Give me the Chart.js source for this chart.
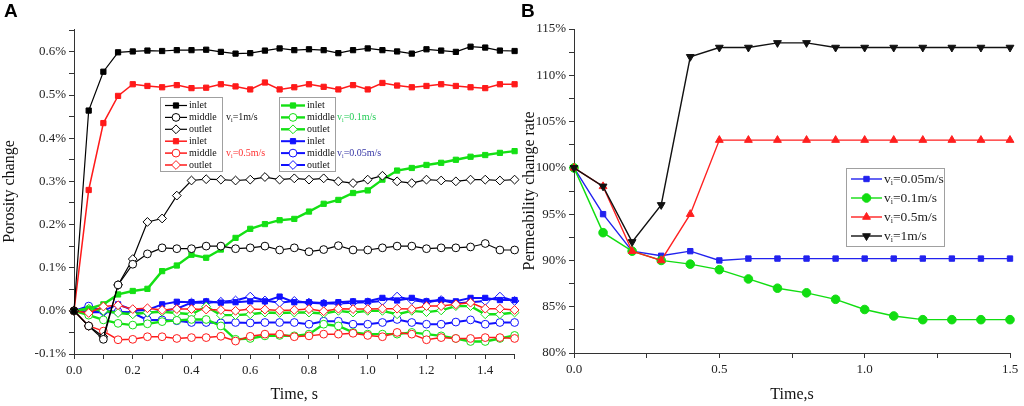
<!DOCTYPE html>
<html>
<head>
<meta charset="utf-8">
<script src="https://cdn.jsdelivr.net/npm/chart.js@4.4.1/dist/chart.umd.min.js"></script>
<style>
  html, body { margin: 0; padding: 0; background: #fff; }
  #wrap { position: relative; width: 1024px; height: 406px; overflow: hidden; }
  .panel { position: absolute; top: 0; height: 406px; }
  #boxA { left: 0; width: 520px; }
  #boxB { left: 520px; width: 504px; }
  .tag { position: absolute; top: 1px; font: bold 19px "Liberation Sans", Arial, sans-serif; line-height: 19px; }
</style>
</head>
<body>
<div id="wrap">
  <div class="panel" id="boxA"><canvas id="porosity" width="520" height="406"></canvas></div>
  <div class="panel" id="boxB"><canvas id="permeability" width="504" height="406"></canvas></div>
  <div class="tag" style="left:4px">A</div>
  <div class="tag" style="left:521px">B</div>
</div>
<script>
// ---- panel A: porosity change (%) ----
const times = [0, 0.05, 0.1, 0.15, 0.2, 0.25, 0.3, 0.35, 0.4, 0.45, 0.5, 0.55, 0.6, 0.65, 0.7, 0.75,
  0.8, 0.85, 0.9, 0.95, 1.0, 1.05, 1.1, 1.15, 1.2, 1.25, 1.3, 1.35, 1.4, 1.45, 1.5];

const blackInlet = [0, 0.464, 0.554, 0.599, 0.601, 0.603, 0.602, 0.604, 0.604, 0.605, 0.600, 0.596, 0.597, 0.603, 0.608, 0.604,
  0.606, 0.604, 0.597, 0.604, 0.608, 0.604, 0.601, 0.596, 0.606, 0.603, 0.600, 0.612, 0.610, 0.603, 0.602];
const blackMiddle = [0, -0.035, -0.066, 0.06, 0.108, 0.132, 0.146, 0.144, 0.144, 0.150, 0.150, 0.144, 0.146, 0.150, 0.141, 0.146,
  0.137, 0.142, 0.151, 0.141, 0.141, 0.146, 0.150, 0.150, 0.144, 0.146, 0.146, 0.148, 0.156, 0.141, 0.141];
const blackOutlet = [0, -0.035, -0.06, 0.06, 0.12, 0.206, 0.214, 0.267, 0.302, 0.305, 0.304, 0.302, 0.304, 0.310, 0.304, 0.307,
  0.304, 0.307, 0.300, 0.296, 0.304, 0.313, 0.300, 0.296, 0.304, 0.302, 0.300, 0.304, 0.304, 0.302, 0.304];
const redInlet = [0, 0.28, 0.435, 0.498, 0.525, 0.521, 0.518, 0.523, 0.516, 0.517, 0.525, 0.520, 0.513, 0.529, 0.513, 0.518,
  0.525, 0.519, 0.513, 0.523, 0.513, 0.528, 0.522, 0.518, 0.521, 0.525, 0.521, 0.518, 0.516, 0.525, 0.525];
const redMiddle = [0, -0.035, -0.047, -0.067, -0.066, -0.060, -0.060, -0.064, -0.062, -0.062, -0.059, -0.070, -0.059, -0.054, -0.054, -0.060,
  -0.058, -0.054, -0.054, -0.052, -0.057, -0.060, -0.050, -0.054, -0.067, -0.062, -0.064, -0.064, -0.062, -0.062, -0.064];
const redOutlet = [0, -0.005, 0.010, 0.013, 0.004, 0.006, 0.002, 0.004, 0.004, 0.003, 0.002, 0.000, 0.004, 0.003, 0.001, 0.002,
  0.004, -0.001, 0.005, 0.004, 0.004, 0.005, 0.005, 0.004, 0.011, 0.011, 0.015, 0.019, 0.005, 0.005, 0.002];
const greenInlet = [0, 0.005, 0.015, 0.038, 0.046, 0.051, 0.092, 0.105, 0.130, 0.123, 0.142, 0.169, 0.190, 0.201, 0.210, 0.213,
  0.230, 0.248, 0.257, 0.273, 0.279, 0.304, 0.325, 0.331, 0.338, 0.343, 0.350, 0.357, 0.361, 0.366, 0.370];
const greenMiddle = [0, -0.010, -0.021, -0.029, -0.033, -0.030, -0.025, -0.022, -0.020, -0.020, -0.035, -0.066, -0.064, -0.058, -0.057, -0.058,
  -0.054, -0.031, -0.035, -0.050, -0.054, -0.054, -0.054, -0.050, -0.054, -0.058, -0.064, -0.071, -0.071, -0.064, -0.057];
const greenOutlet = [0, 0.005, 0.000, -0.005, -0.008, -0.004, -0.002, -0.005, -0.008, 0.010, -0.010, -0.010, -0.008, -0.004, -0.005, -0.004,
  -0.004, -0.006, 0.000, -0.004, 0.000, 0.000, -0.008, 0.000, -0.003, 0.001, 0.011, 0.011, -0.008, -0.008, -0.004];
const blueInlet = [0, -0.002, 0.000, 0.015, 0.002, 0.002, 0.015, 0.021, 0.020, 0.022, 0.019, 0.020, 0.022, 0.022, 0.033, 0.020,
  0.020, 0.018, 0.020, 0.022, 0.022, 0.030, 0.024, 0.030, 0.022, 0.025, 0.022, 0.030, 0.030, 0.025, 0.025];
const blueMiddle = [0, 0.011, 0.000, -0.002, -0.005, -0.021, -0.021, -0.023, -0.027, -0.027, -0.028, -0.027, -0.028, -0.027, -0.027, -0.027,
  -0.031, -0.024, -0.024, -0.031, -0.031, -0.027, -0.020, -0.027, -0.031, -0.031, -0.026, -0.021, -0.031, -0.027, -0.027];
const blueOutlet = [0, -0.003, -0.003, -0.003, -0.003, -0.005, 0.000, 0.005, 0.019, 0.019, 0.021, 0.024, 0.033, 0.024, 0.019, 0.023,
  0.019, 0.017, 0.017, 0.019, 0.020, 0.023, 0.033, 0.025, 0.020, 0.025, 0.017, 0.020, 0.023, 0.033, 0.023];

const positions = ['inlet', 'middle', 'outlet'];

// ---- panel B: permeability change rate (%) ----
const permTimes = [0, 0.1, 0.2, 0.3, 0.4, 0.5, 0.6, 0.7, 0.8, 0.9, 1.0, 1.1, 1.2, 1.3, 1.4, 1.5];
const perm005 = [100, 95, 91, 90.5, 91, 90, 90.2, 90.2, 90.2, 90.2, 90.2, 90.2, 90.2, 90.2, 90.2, 90.2];
const perm01 = [100, 93, 91, 90, 89.6, 89, 88, 87, 86.5, 85.8, 84.7, 84, 83.6, 83.6, 83.6, 83.6];
const perm05 = [100, 98, 91, 90, 95, 103, 103, 103, 103, 103, 103, 103, 103, 103, 103, 103];
const perm1 = [100, 98, 92, 96, 112, 113, 113, 113.5, 113.5, 113, 113, 113, 113, 113, 113, 113];

const SERIF = '"Liberation Serif", "Times New Roman", serif';

function isStep(v, step) {
  const k = v / step;
  return Math.abs(k - Math.round(k)) < 1e-6;
}

function pts(xs, ys) {
  return xs.map((x, i) => ({ x: x, y: ys[i] }));
}

function drawRich(ctx, parts, x, y, size, color) {
  ctx.fillStyle = color;
  ctx.textBaseline = 'middle';
  ctx.textAlign = 'left';
  parts.forEach(p => {
    if (typeof p === 'string') {
      ctx.font = size + 'px ' + SERIF;
      ctx.fillText(p, x, y);
      x += ctx.measureText(p).width;
    } else {
      const s = Math.round(size * 0.6);
      ctx.font = s + 'px ' + SERIF;
      ctx.fillText(p.sub, x, y + size * 0.3);
      x += ctx.measureText(p.sub).width;
    }
  });
}

// legend drawn inside the plot, using each dataset's own style
const boxLegend = {
  id: 'boxLegend',
  afterDatasetsDraw(chart, args, opts) {
    const ctx = chart.ctx;
    ctx.save();
    ctx.strokeStyle = '#a0a0a0';
    ctx.lineWidth = 1;
    opts.boxes.forEach(b => ctx.strokeRect(b[0] + 0.5, b[1] + 0.5, b[2], b[3]));
    opts.rows.forEach(r => {
      const ds = chart.data.datasets[r.index];
      ctx.strokeStyle = ds.borderColor;
      ctx.lineWidth = ds.borderWidth;
      ctx.beginPath();
      ctx.moveTo(r.x, r.y);
      ctx.lineTo(r.x + r.len, r.y);
      ctx.stroke();
      ctx.fillStyle = ds.pointBackgroundColor;
      ctx.strokeStyle = ds.pointBorderColor;
      ctx.lineWidth = ds.pointBorderWidth;
      Chart.helpers.drawPoint(ctx, {
        pointStyle: ds.pointStyle,
        radius: ds.pointRadius,
        rotation: ds.pointRotation || 0,
        borderWidth: ds.pointBorderWidth
      }, r.x + r.len / 2, r.y);
      drawRich(ctx, r.text, r.x + r.len + 2, r.y, opts.size, opts.textColor);
    });
    (opts.notes || []).forEach(n => drawRich(ctx, n.parts, n.x, n.y, opts.size, n.color));
    ctx.restore();
  }
};

function axis(extra) {
  return Object.assign({
    type: 'linear',
    border: { display: true, color: '#333', width: 1 },
    grid: { drawOnChartArea: false, drawTicks: true, tickLength: 5, color: '#333' },
  }, extra);
}

// ---- chart A ----
const groups = [
  { color: '#000000', lw: 1.2, series: [blackInlet, blackMiddle, blackOutlet] },
  { color: '#ff1a1a', lw: 1.5, series: [redInlet, redMiddle, redOutlet] },
  { color: '#14e014', lw: 2.4, series: [greenInlet, greenMiddle, greenOutlet] },
  { color: '#1010ff', lw: 2.0, series: [blueInlet, blueMiddle, blueOutlet] }
];
const styleA = [
  { pointStyle: 'rect', radius: 3.7, fill: null },
  { pointStyle: 'circle', radius: 3.9, fill: '#ffffff' },
  { pointStyle: 'rectRot', radius: 4.4, fill: '#ffffff' }
];

const datasetsA = [];
groups.forEach(g => {
  g.series.forEach((s, k) => {
    datasetsA.push({
      label: positions[k],
      data: pts(times, s),
      borderColor: g.color,
      borderWidth: g.lw,
      pointStyle: styleA[k].pointStyle,
      pointRadius: styleA[k].radius,
      pointBackgroundColor: styleA[k].fill || g.color,
      pointBorderColor: g.color,
      pointBorderWidth: 1,
      tension: 0,
      clip: false
    });
  });
});

const rowsA = [];
for (let i = 0; i < 12; i++) {
  const col = i < 6 ? 0 : 1;
  rowsA.push({
    index: i,
    x: col === 0 ? 165 : 281,
    y: 105.5 + (i % 6) * 11.9,
    len: col === 0 ? 22 : 24,
    text: [positions[i % 3]]
  });
}

new Chart(document.getElementById('porosity'), {
  type: 'line',
  data: { datasets: datasetsA },
  plugins: [boxLegend],
  options: {
    responsive: false,
    animation: false,
    layout: { padding: { top: 29, right: 5, left: 0, bottom: 0 } },
    plugins: {
      legend: { display: false },
      tooltip: { enabled: false },
      boxLegend: {
        size: 10,
        textColor: '#111',
        boxes: [[160, 97, 62, 74], [279, 97, 56, 74]],
        rows: rowsA,
        notes: [
          { x: 226, y: 117.4, parts: ['v', { sub: 'i' }, '=1m/s'], color: '#111' },
          { x: 226, y: 153, parts: ['v', { sub: 'i' }, '=0.5m/s'], color: '#ff3030' },
          { x: 337, y: 117.4, parts: ['v', { sub: 'i' }, '=0.1m/s'], color: '#22cc55' },
          { x: 337, y: 153, parts: ['v', { sub: 'i' }, '=0.05m/s'], color: '#3535a5' }
        ]
      }
    },
    scales: {
      x: axis({
        min: 0, max: 1.5,
        afterFit(scale) { scale.height = 52; },
        ticks: {
          stepSize: 0.1, autoSkip: false, maxRotation: 0, includeBounds: false,
          color: '#222', font: { family: SERIF, size: 13 }, padding: 4,
          callback: v => isStep(v, 0.2) ? (Math.round(v * 10) / 10).toFixed(1) : ''
        },
        title: { display: true, text: 'Time, s', color: '#111', font: { family: SERIF, size: 16 }, padding: { top: 0, bottom: 2 } }
      }),
      y: axis({
        min: -0.1, max: 0.653,
        afterFit(scale) { scale.width = 74; },
        ticks: {
          stepSize: 0.05, autoSkip: false, includeBounds: false,
          color: '#222', font: { family: SERIF, size: 13 }, padding: 3,
          callback: v => isStep(v, 0.1) ? (Math.round(v * 10) / 10).toFixed(1) + '%' : ''
        },
        title: { display: true, text: 'Porosity change', color: '#111', font: { family: SERIF, size: 16 }, padding: { top: 0, bottom: 4 } }
      })
    }
  }
});

// ---- chart B ----
const permSeries = [
  { name: ['v', { sub: 'i' }, '=0.05m/s'], data: perm005, color: '#2222ee', style: 'rect', rot: 0, r: 3.8, order: 4 },
  { name: ['v', { sub: 'i' }, '=0.1m/s'], data: perm01, color: '#11dd11', style: 'circle', rot: 0, r: 4.3, order: 3 },
  { name: ['v', { sub: 'i' }, '=0.5m/s'], data: perm05, color: '#ff2020', style: 'triangle', rot: 0, r: 4.5, order: 2 },
  { name: ['v', { sub: 'i' }, '=1m/s'], data: perm1, color: '#111111', style: 'triangle', rot: 180, r: 4.5, order: 1 }
];

const datasetsB = permSeries.map(s => ({
  label: 'v_i' + s.name[2],
  data: pts(permTimes, s.data),
  borderColor: s.color,
  borderWidth: 1.4,
  pointStyle: s.style,
  pointRotation: s.rot,
  pointRadius: s.r,
  pointBackgroundColor: s.color,
  pointBorderColor: s.color,
  pointBorderWidth: 1,
  tension: 0,
  order: s.order,
  clip: false
}));

new Chart(document.getElementById('permeability'), {
  type: 'line',
  data: { datasets: datasetsB },
  plugins: [boxLegend],
  options: {
    responsive: false,
    animation: false,
    layout: { padding: { top: 29, right: 14, left: 0, bottom: 0 } },
    plugins: {
      legend: { display: false },
      tooltip: { enabled: false },
      boxLegend: {
        size: 13.5,
        textColor: '#222',
        boxes: [[326, 168, 98, 78]],
        rows: permSeries.map((s, i) => ({ index: i, x: 331, y: 179 + i * 19, len: 31, text: s.name }))
      }
    },
    scales: {
      x: axis({
        min: 0, max: 1.5,
        afterFit(scale) { scale.height = 53; },
        ticks: {
          stepSize: 0.25, autoSkip: false, maxRotation: 0, includeBounds: false,
          color: '#222', font: { family: SERIF, size: 13 }, padding: 4,
          callback: v => isStep(v, 0.5) ? (Math.round(v * 10) / 10).toFixed(1) : ''
        },
        title: { display: true, text: 'Time,s', color: '#111', font: { family: SERIF, size: 16 }, padding: { top: 0, bottom: 2 } }
      }),
      y: axis({
        min: 80, max: 115,
        afterFit(scale) { scale.width = 54; },
        ticks: {
          stepSize: 2.5, autoSkip: false, includeBounds: false,
          color: '#222', font: { family: SERIF, size: 13 }, padding: 3,
          callback: v => isStep(v, 5) ? Math.round(v) + '%' : ''
        },
        title: { display: true, text: 'Permeability change rate', color: '#111', font: { family: SERIF, size: 16 }, padding: { top: 0, bottom: 2 } }
      })
    }
  }
});
</script>
</body>
</html>
